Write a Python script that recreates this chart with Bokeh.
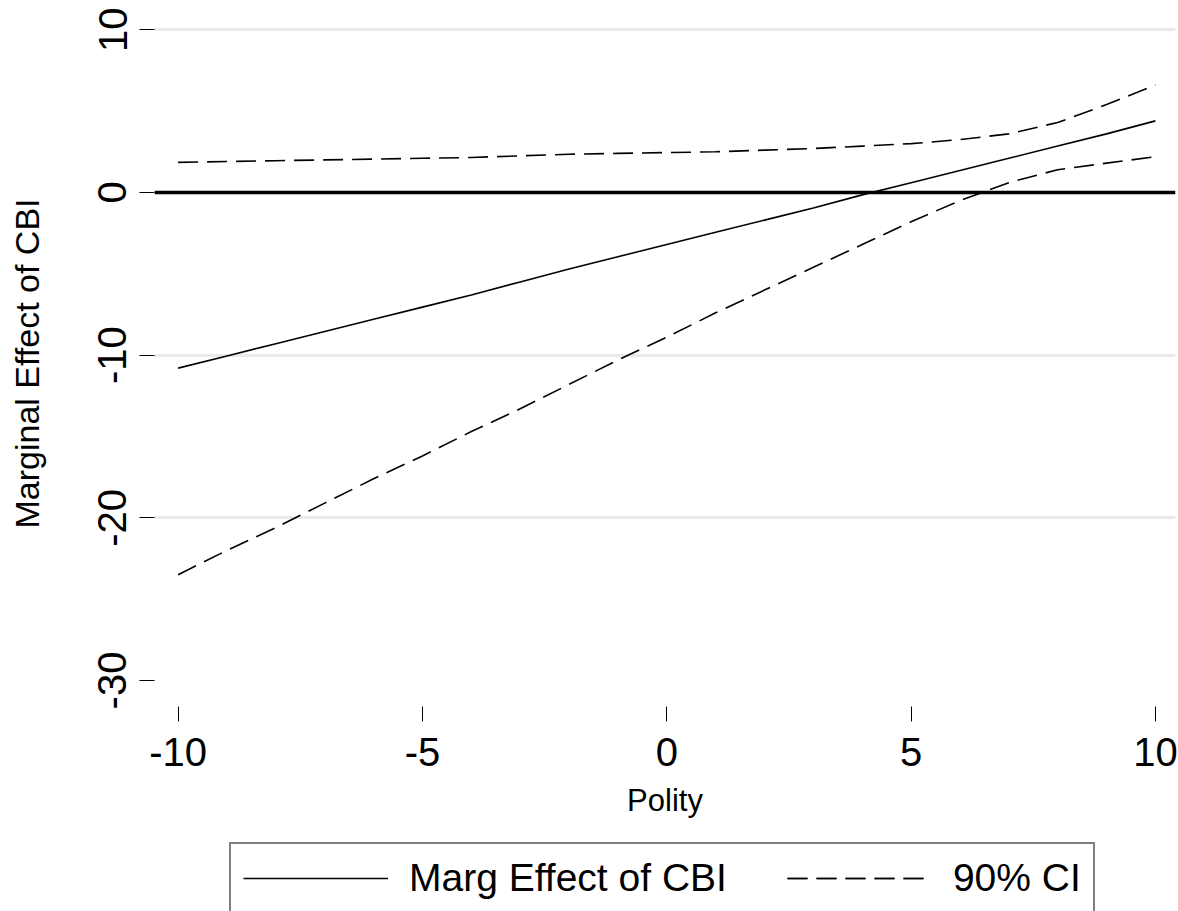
from bokeh.plotting import figure
from bokeh.models import Range1d, FixedTicker, Span, Legend, LegendItem
from bokeh.layouts import column
from bokeh.embed import file_html
from bokeh.resources import INLINE

# ---- data ----
polity = [-10, -9, -8, -7, -6, -5, -4, -3, -2, -1, 0, 1, 2, 3, 4, 5, 6, 7, 8, 9, 10]
marg_effect = [-10.8, -10.05, -9.3, -8.55, -7.8, -7.05, -6.3, -5.5, -4.7, -3.95, -3.2,
               -2.45, -1.7, -0.95, -0.15, 0.6, 1.35, 2.1, 2.85, 3.6, 4.4]
ci_upper = [1.85, 1.9, 1.95, 2.0, 2.05, 2.1, 2.15, 2.25, 2.35, 2.4, 2.45,
            2.5, 2.6, 2.7, 2.85, 3.0, 3.25, 3.6, 4.3, 5.4, 6.6]
ci_lower = [-23.5, -22.0, -20.6, -19.1, -17.6, -16.2, -14.7, -13.3, -11.8, -10.3, -8.9,
            -7.4, -6.0, -4.6, -3.2, -1.8, -0.5, 0.6, 1.4, 1.8, 2.2]

x_ticks = [-10, -5, 0, 5, 10]
y_ticks = [-30, -20, -10, 0, 10]
grid_ticks = [-20, -10, 0, 10]

x_title = "Polity"
y_title = "Marginal Effect of CBI"
label_effect = "Marg Effect of CBI"
label_ci = "90% CI"

FONT = "Liberation Sans"
DASH = "20 9"

# ---------------- main plot ----------------
p = figure(width=1178, height=830, output_backend="svg", toolbar_location=None,
           x_range=Range1d(-10.483, 10.411), y_range=Range1d(-31.6, 10.57),
           min_border_left=154, min_border_right=3, min_border_top=20,
           min_border_bottom=124)
p.outline_line_color = None
p.background_fill_color = "white"
p.border_fill_color = "white"

for ax in (p.xaxis, p.yaxis):
    ax.axis_line_color = None
    ax.major_tick_in = 0
    ax.major_tick_out = 15
    ax.major_tick_line_color = "black"
    ax.major_tick_line_width = 1
    ax.minor_tick_line_color = None
    ax.major_label_text_font = FONT
    ax.major_label_text_font_size = "40px"
    ax.major_label_text_color = "black"
    ax.axis_label_text_font = FONT
    ax.axis_label_text_font_style = "normal"
    ax.axis_label_text_color = "black"

p.xaxis.axis_label_text_font_size = "31px"
p.yaxis.axis_label_text_font_size = "34px"
p.xaxis.ticker = FixedTicker(ticks=x_ticks)
p.yaxis.ticker = FixedTicker(ticks=y_ticks)
p.xaxis.major_label_overrides = {t: str(t) for t in x_ticks}
p.yaxis.major_label_overrides = {t: str(t) for t in y_ticks}
p.xaxis.axis_label = x_title
p.yaxis.axis_label = y_title
p.yaxis.major_label_orientation = "vertical"
p.xaxis.major_label_standoff = 16
p.xaxis.axis_label_standoff = 14
p.yaxis.major_label_standoff = 13
p.yaxis.axis_label_standoff = 50

p.xgrid.grid_line_color = None
p.ygrid.ticker = FixedTicker(ticks=grid_ticks)
p.ygrid.grid_line_color = "#eaeaea"
p.ygrid.grid_line_width = 3

p.add_layout(Span(location=0, dimension="width", line_color="black", line_width=3.5))

p.line(polity, marg_effect, line_color="black", line_width=1.6)
p.line(polity, ci_upper, line_color="black", line_width=1.6, line_dash=DASH)
p.line(polity, ci_lower, line_color="black", line_width=1.6, line_dash=DASH)

# ---------------- legend strip (below the plot) ----------------
lf = figure(width=1178, height=81, output_backend="svg", toolbar_location=None,
            x_range=Range1d(100, 101), y_range=Range1d(100, 101),
            x_axis_type=None, y_axis_type=None, min_border=0)
lf.outline_line_color = None
lf.grid.grid_line_color = None
lf.background_fill_color = "white"
lf.border_fill_color = "white"
# same series (outside this strip's ranges) only to feed the legend glyphs
l_eff = lf.line(polity, marg_effect, line_color="black", line_width=1.6)
l_up = lf.line(polity, ci_upper, line_color="black", line_width=1.6, line_dash=DASH)
l_lo = lf.line(polity, ci_lower, line_color="black", line_width=1.6, line_dash=DASH)

leg = Legend(items=[LegendItem(label=label_effect, renderers=[l_eff]),
                    LegendItem(label=label_ci, renderers=[l_up, l_lo])])
leg.orientation = "horizontal"
leg.location = (75, -3)
leg.label_text_font = FONT
leg.label_text_font_size = "39px"
leg.label_text_color = "black"
leg.glyph_width = 145
leg.glyph_height = 40
leg.label_height = 40
leg.label_standoff = 21
leg.spacing = 60
leg.padding = 12
leg.margin = 0
leg.border_line_color = "black"
leg.border_line_width = 2
leg.background_fill_color = "white"
leg.background_fill_alpha = 1
lf.add_layout(leg, "center")

layout = column(p, lf, spacing=0)
open("out.html", "w").write(file_html(layout, INLINE))
